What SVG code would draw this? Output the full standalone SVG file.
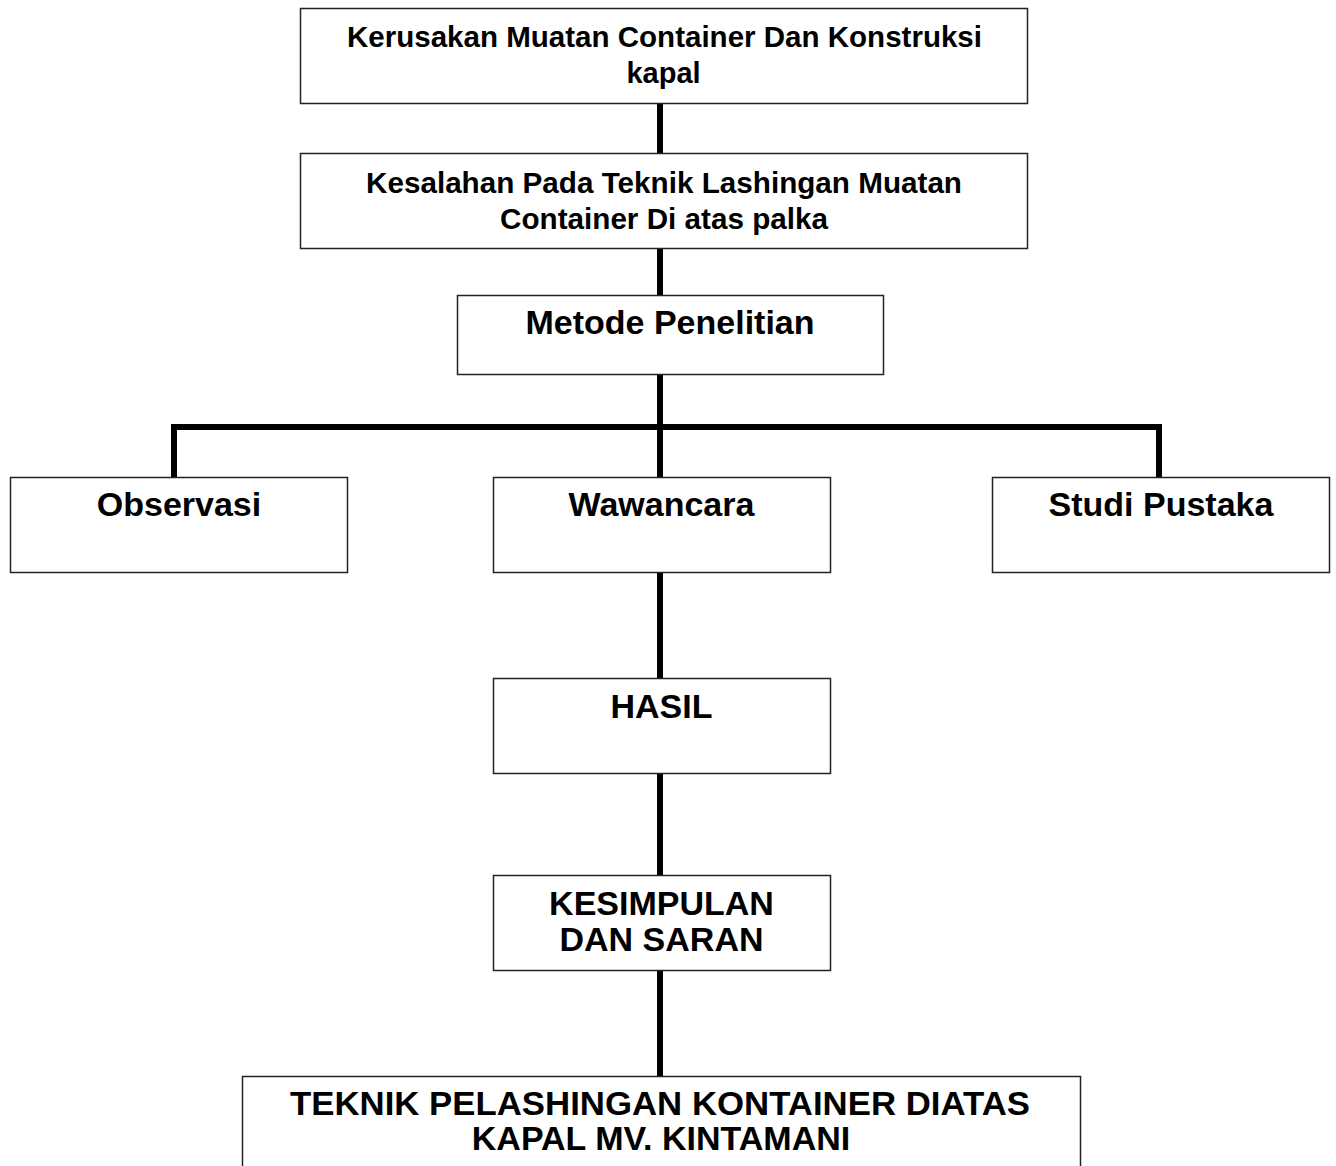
<svg xmlns="http://www.w3.org/2000/svg" width="1336" height="1166" viewBox="0 0 1336 1166">
<style>
.box{fill:#fff;stroke:#222;stroke-width:1.5}
.t{font-family:"Liberation Sans",Arial,sans-serif;font-weight:bold;fill:#000;text-anchor:middle}
.s{font-size:29px}
.m{font-size:34px}
.c{stroke:#000;stroke-width:6;fill:none}
</style>
<rect width="1336" height="1166" fill="#fff"/>
<g id="connectors">
<line class="c" x1="660" y1="103" x2="660" y2="153"/>
<line class="c" x1="660" y1="248" x2="660" y2="295"/>
<line class="c" x1="660" y1="374" x2="660" y2="477"/>
<polyline class="c" points="174,477 174,427 1159,427 1159,477"/>
<line class="c" x1="660" y1="572" x2="660" y2="678"/>
<line class="c" x1="660" y1="773" x2="660" y2="875"/>
<line class="c" x1="660" y1="970" x2="660" y2="1076"/>
</g>
<g id="n1">
<rect class="box" x="300.5" y="8.5" width="727" height="95"/>
<text class="t s" x="664.5" y="47" textLength="635" lengthAdjust="spacingAndGlyphs">Kerusakan Muatan Container Dan Konstruksi</text>
<text class="t s" x="663.5" y="83">kapal</text>
</g>
<g id="n2">
<rect class="box" x="300.5" y="153.5" width="727" height="95"/>
<text class="t s" x="664" y="193" textLength="596" lengthAdjust="spacingAndGlyphs">Kesalahan Pada Teknik Lashingan Muatan</text>
<text class="t s" x="664" y="229" textLength="328" lengthAdjust="spacingAndGlyphs">Container Di atas palka</text>
</g>
<g id="n3">
<rect class="box" x="457.5" y="295.5" width="426" height="79"/>
<text class="t m" x="670" y="334">Metode Penelitian</text>
</g>
<g id="n4">
<rect class="box" x="10.5" y="477.5" width="337" height="95"/>
<text class="t m" x="179" y="516">Observasi</text>
</g>
<g id="n5">
<rect class="box" x="493.5" y="477.5" width="337" height="95"/>
<text class="t m" x="661.5" y="516">Wawancara</text>
</g>
<g id="n6">
<rect class="box" x="992.5" y="477.5" width="337" height="95"/>
<text class="t m" x="1161" y="516">Studi Pustaka</text>
</g>
<g id="n7">
<rect class="box" x="493.5" y="678.5" width="337" height="95"/>
<text class="t m" x="661.5" y="718">HASIL</text>
</g>
<g id="n8">
<rect class="box" x="493.5" y="875.5" width="337" height="95"/>
<text class="t m" x="661.5" y="915">KESIMPULAN</text>
<text class="t m" x="661.5" y="951">DAN SARAN</text>
</g>
<g id="n9">
<rect class="box" x="242.5" y="1076.5" width="838" height="100"/>
<text class="t m" x="660" y="1115" textLength="740" lengthAdjust="spacingAndGlyphs">TEKNIK PELASHINGAN KONTAINER DIATAS</text>
<text class="t m" x="661" y="1150">KAPAL MV. KINTAMANI</text>
</g>
</svg>
